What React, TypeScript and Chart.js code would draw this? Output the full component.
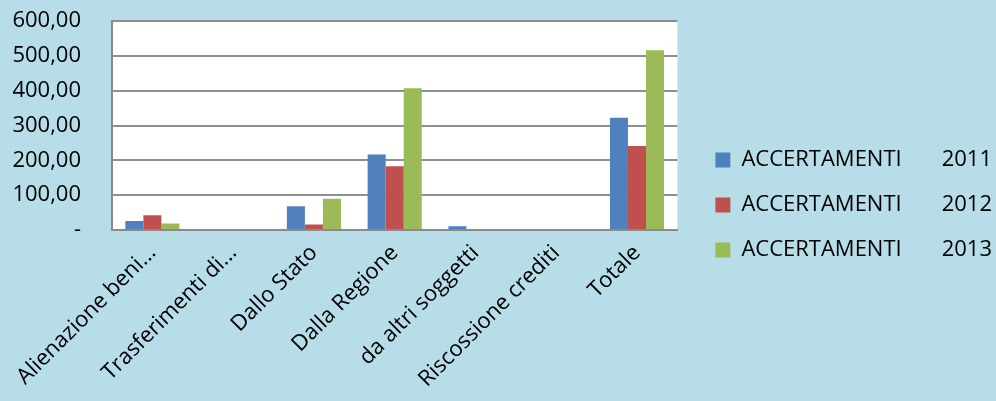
import React, { useEffect, useRef } from 'react';
import { Chart, registerables } from 'chart.js';

Chart.register(...registerables);

const categories = [
  'Alienazione beni...',
  'Trasferimenti di...',
  'Dallo Stato',
  'Dalla Regione',
  'da altri soggetti',
  'Riscossione crediti',
  'Totale',
];
const seriesLabels = [
  'ACCERTAMENTI       2011',
  'ACCERTAMENTI       2012',
  'ACCERTAMENTI       2013',
];
const values2011 = [26, 0, 68, 217, 11, 0, 322];
const values2012 = [42, 0, 16, 183, 0, 0, 241];
const values2013 = [19, 0, 90, 407, 0, 0, 516];
const seriesColors = ['#4f81bd', '#c0504d', '#9bbb59'];
const yMin = 0;
const yMax = 600;
const yStep = 100;

const BG = '#b7dde8';
const FONT = "'Open Sans', sans-serif";

const plotBg = {
  id: 'plotBg',
  beforeDraw(chart: any) {
    const { ctx, chartArea } = chart;
    if (!chartArea) return;
    ctx.save();
    ctx.fillStyle = '#ffffff';
    ctx.fillRect(chartArea.left, chartArea.top, chartArea.right - chartArea.left, chartArea.bottom - chartArea.top);
    ctx.restore();
  },
};

export default function App() {
  const ref = useRef<HTMLCanvasElement | null>(null);

  useEffect(() => {
    document.body.style.margin = '0';
    document.body.style.background = BG;
    const canvas = ref.current;
    if (!canvas) return;
    const series = [values2011, values2012, values2013];
    const chart = new Chart(canvas, {
      type: 'bar',
      data: {
        labels: categories,
        datasets: series.map((vals, i) => ({
          label: seriesLabels[i],
          data: vals,
          backgroundColor: seriesColors[i],
          borderColor: seriesColors[i],
          borderWidth: 0,
          barPercentage: 1,
          categoryPercentage: 0.67,
        })),
      },
      options: {
        animation: false,
        responsive: true,
        maintainAspectRatio: false,
        layout: { padding: { top: 21, right: -6, bottom: 12, left: 0 } },
        plugins: {
          tooltip: { enabled: false },
          legend: {
            position: 'right',
            align: 'center',
            maxWidth: 400,
            labels: {
              color: '#000000',
              font: { family: FONT, size: 22 },
              boxWidth: 15,
              boxHeight: 15,
              padding: 23,
            },
          },
        },
        scales: {
          x: {
            grid: { display: false, drawTicks: false },
            border: { display: true, color: '#8a8a8a', width: 2 },
            ticks: {
              color: '#000000',
              font: { family: FONT, size: 22 },
              minRotation: 45,
              maxRotation: 45,
              autoSkip: false,
              padding: 10,
            },
            afterFit: (s: any) => {
              s.height = 401 - 230 - 12;
              s.paddingLeft = 0;
              s.paddingRight = 0;
            },
          },
          y: {
            min: yMin,
            max: yMax,
            grid: { color: '#8f8f8f', lineWidth: 2, drawTicks: false },
            border: { display: true, color: '#8a8a8a', width: 2 },
            ticks: {
              stepSize: yStep,
              color: '#000000',
              font: { family: FONT, size: 22 },
              padding: 31,
              callback: (v: any) => (Number(v) === 0 ? '-' : Number(v).toFixed(2).replace('.', ',')),
            },
            afterFit: (s: any) => {
              s.width = 112;
              s.paddingTop = 0;
              s.paddingBottom = 0;
            },
          },
          y2: {
            position: 'right',
            display: true,
            grid: { display: false, drawTicks: false },
            border: { display: false },
            ticks: { display: false },
            afterFit: (s: any) => {
              s.width = 15;
              s.paddingTop = 0;
              s.paddingBottom = 0;
            },
          },
        },
      },
      plugins: [plotBg],
    } as any);
    return () => chart.destroy();
  }, []);

  return (
    <div style={{ position: 'relative', width: 996, height: 401, background: BG }}>
      <canvas ref={ref} />
    </div>
  );
}
